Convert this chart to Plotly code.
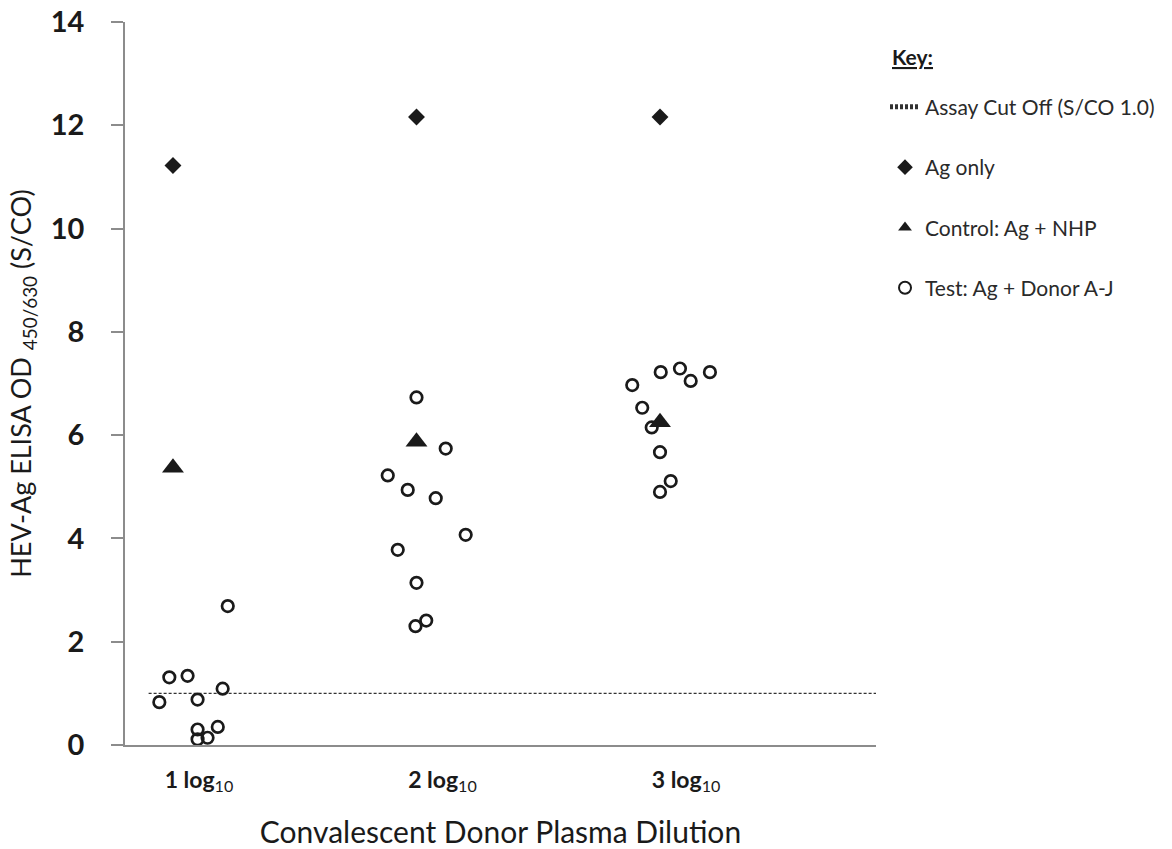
import plotly.graph_objects as go

# ---------------- data ----------------
dilutions = [1, 2, 3]
tick_labels = ["<b>1 log</b><sub>10</sub>", "<b>2 log</b><sub>10</sub>", "<b>3 log</b><sub>10</sub>"]

ag_only = [11.22, 12.16, 12.16]          # Ag only
control_nhp = [5.37, 5.87, 6.25]         # Control: Ag + NHP

# Test: Ag + Donor A-J, per dilution (within-category jitter offsets and values)
test_1log_jitter = [0.225, -0.015, 0.060, -0.056, 0.101, 0.204, 0.101, 0.184, 0.101, 0.142]
test_1log_values = [2.69, 1.31, 1.34, 0.83, 0.88, 1.09, 0.30, 0.35, 0.11, 0.14]
test_2log_jitter = [0.000, 0.120, -0.118, -0.036, 0.079, 0.202, -0.077, 0.000, 0.040, -0.004]
test_2log_values = [6.73, 5.74, 5.22, 4.94, 4.78, 4.07, 3.78, 3.14, 2.41, 2.30]
test_3log_jitter = [0.003, 0.082, 0.126, 0.205, -0.114, -0.073, -0.034, 0.000, 0.044, 0.000]
test_3log_values = [7.22, 7.29, 7.05, 7.22, 6.97, 6.53, 6.15, 5.67, 5.11, 4.90]

cutoff = 1.0
cutoff_start = 0.90

# ---------------- build ----------------
X_RANGE = [0.803, 3.887]
FONT = "Lato"
INK = "#1a1a1a"
AXIS = "#8c8c8c"

test_x, test_y = [], []
for d, jit, vals in zip(dilutions,
                        [test_1log_jitter, test_2log_jitter, test_3log_jitter],
                        [test_1log_values, test_2log_values, test_3log_values]):
    test_x += [d + j for j in jit]
    test_y += vals

fig = go.Figure()

fig.add_trace(go.Scatter(
    x=[cutoff_start, X_RANGE[1]], y=[cutoff, cutoff], mode="lines",
    line=dict(color="#333333", width=1.3, dash="3px,2px"),
    name="Assay Cut Off (S/CO 1.0)", legendgroup="a", legendrank=1,
    hoverinfo="skip"))

fig.add_trace(go.Scatter(
    x=test_x, y=test_y, mode="markers",
    marker=dict(symbol="circle-open", size=11.5, color=INK, line=dict(width=2.7, color=INK)),
    name="Test: Ag + Donor A-J", legendgroup="d", legendrank=4, cliponaxis=False))

fig.add_trace(go.Scatter(
    x=dilutions, y=control_nhp, mode="markers",
    marker=dict(symbol="triangle-up", size=19, color=INK),
    name="Control: Ag + NHP", legendgroup="c", legendrank=3, cliponaxis=False))

fig.add_trace(go.Scatter(
    x=dilutions, y=ag_only, mode="markers",
    marker=dict(symbol="diamond", size=13, color=INK),
    name="Ag only", legendgroup="b", legendrank=2, cliponaxis=False))

fig.add_annotation(
    text="<b><u>Key:</u></b>", xref="paper", yref="paper",
    x=1.0186, y=0.9516, xanchor="left", yanchor="middle", showarrow=False,
    font=dict(family=FONT, size=21, color=INK))

fig.update_layout(
    width=1172, height=849,
    margin=dict(l=125, r=296, t=22, b=104, autoexpand=False),
    paper_bgcolor="white", plot_bgcolor="white",
    font=dict(family=FONT, color=INK),
    showlegend=True,
    legend=dict(
        x=1.012, y=0.9105, xanchor="left", yanchor="top",
        traceorder="grouped", tracegroupgap=30,
        itemsizing="constant",
        font=dict(family=FONT, size=21, color="#2a2a2a"),
        bgcolor="rgba(0,0,0,0)",
    ),
    xaxis=dict(
        range=X_RANGE, showgrid=False, zeroline=False, automargin=False,
        showline=True, linecolor=AXIS, linewidth=2,
        tickmode="array", tickvals=dilutions, ticktext=tick_labels,
        ticks="", ticklabelshift=26, ticklabelstandoff=13,
        tickfont=dict(family=FONT, size=23, color=INK),
        title=dict(text="Convalescent Donor Plasma Dilution",
                   font=dict(family=FONT, size=30, color=INK), standoff=29),
    ),
    yaxis=dict(
        range=[0, 14], showgrid=False, zeroline=False, automargin=False,
        showline=True, linecolor=AXIS, linewidth=1.6,
        tickmode="array", tickvals=[0, 2, 4, 6, 8, 10, 12, 14],
        ticktext=["<b>%d</b>" % v for v in [0, 2, 4, 6, 8, 10, 12, 14]],
        ticks="outside", ticklen=12, tickwidth=1.6, tickcolor=AXIS,
        ticklabelstandoff=21,
        tickfont=dict(family=FONT, size=29, color=INK),
        title=dict(text="HEV-Ag ELISA OD <sub>450/630</sub> (S/CO)",
                   font=dict(family=FONT, size=27, color=INK), standoff=11),
    ),
)

fig.write_html("out.html")
